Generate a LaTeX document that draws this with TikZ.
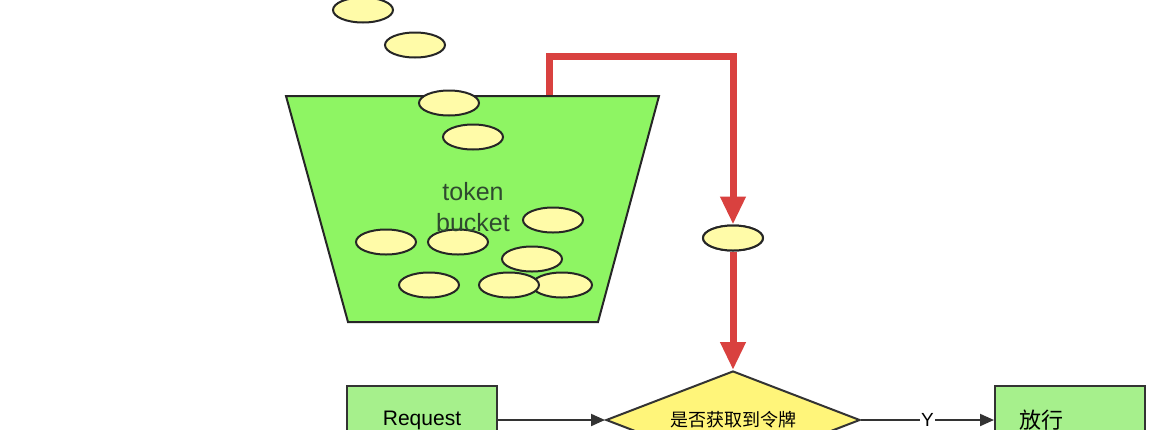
\documentclass[tikz,border=0pt]{standalone}
\usepackage{fontspec}
\setmainfont{Liberation Sans}
\newfontfamily\cjk{Noto Sans CJK SC}
\usetikzlibrary{shapes.geometric,arrows.meta}
\definecolor{bucketgreen}{HTML}{8EF563}
\definecolor{boxgreen}{HTML}{A6F08C}
\definecolor{coinfill}{HTML}{FFFBA8}
\definecolor{diafill}{HTML}{FFF57A}
\definecolor{redline}{HTML}{D9413F}
\definecolor{darkline}{HTML}{333333}
\definecolor{bucktext}{HTML}{2F4A2F}
\tikzset{
  coin/.style={ellipse,draw=black!85,line width=2pt,fill=coinfill,minimum width=60pt,minimum height=25pt,inner sep=0pt},
  box/.style={draw=darkline,line width=2pt,fill=boxgreen,minimum width=150pt,minimum height=70pt,inner sep=0pt},
  redarrow/.style={draw=redline,line width=7pt,-{Triangle[length=28pt,width=24pt]}},
  flow/.style={draw=darkline,line width=2pt,-{Triangle[length=14pt,width=12pt]}}
}
\begin{document}
\begin{tikzpicture}[x=1pt,y=-1pt]
\useasboundingbox (0,0) rectangle (1170,429);
\clip (0,0) rectangle (1170,429);
\fill[white] (0,0) rectangle (1170,429);
% red feed line from bucket
\coordinate (feed) at (549,95);
\node[coin] (cup) at (733,238) {};
\draw[redline,line width=7pt] (feed) -- (549,56) -- (733,56) -- (733,130);
% bucket
\draw[fill=bucketgreen,line width=2pt,draw=black!85] (286,96) -- (659,96) -- (598,322) -- (348,322) -- cycle;
\node[coin] (c1) at (363,10) {};
\node[coin] (c2) at (415,45) {};
\node[coin] (c3) at (449,103) {};
\node[coin] (c4) at (473,137) {};
\node[coin] (c5) at (553,220) {};
\node[coin] (c6) at (386,242) {};
\node[coin] (c7) at (458,242) {};
\node[coin] (c8) at (532,259) {};
\node[coin] (c11) at (562,285) {};
\node[coin] (c10) at (509,285) {};
\node[coin] (c9) at (429,285) {};
\node[text=bucktext,font=\fontsize{25}{31}\selectfont,align=center] (bt) at (473,207) {token\\bucket};
% red arrows
\draw[redarrow] (733,120) -- (cup.north);
\node[coin] (cupb) at (733,238) {};
% decision
\node[diamond,draw=darkline,line width=2pt,fill=diafill,minimum width=254pt,minimum height=98pt,inner sep=0pt,aspect=2.6] (dec) at (733,420) {};
\node[font=\cjk\fontsize{18}{22}\selectfont] (dect) at (733,420) {是否获取到令牌};
\draw[redarrow] (cupb.south) -- (dec.north);
% boxes
\node[box] (req) at (422,421) {};
\node[font=\fontsize{21}{25}\selectfont] at (422,420) {Request};
\node[box] (pass) at (1070,421) {};
\node[font=\cjk\fontsize{22}{26}\selectfont] at (1041,420) {放行};
\draw[flow] (req.east |- 0,420) -- (dec.west);
\draw[flow] (dec.east) -- node[fill=white,inner sep=1pt,font=\fontsize{19}{23}\selectfont] {Y} (pass.west |- 0,420);
\end{tikzpicture}
\end{document}
